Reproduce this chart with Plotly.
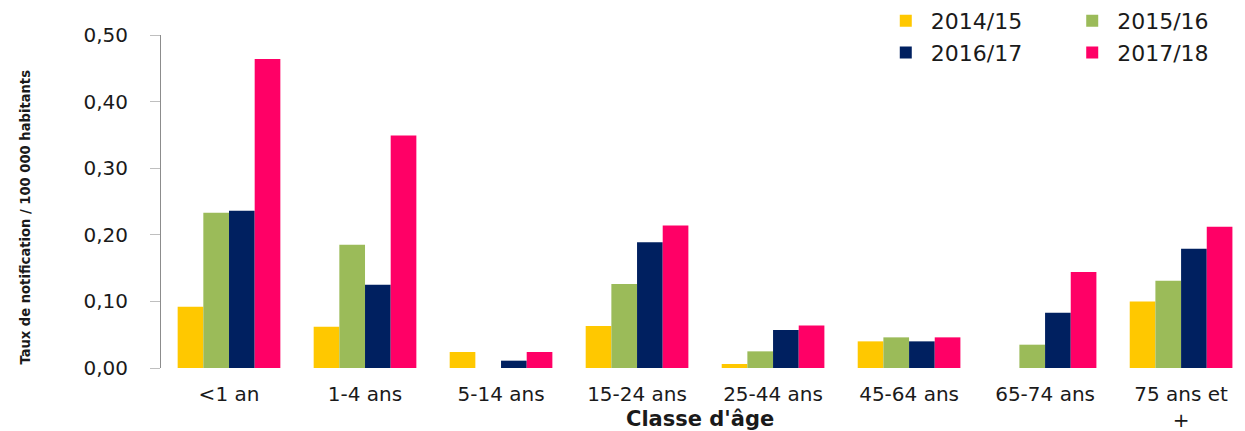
import plotly.graph_objects as go

# Age classes and notification rates per season (per 100 000 inhabitants)
age_classes = ["<1 an", "1-4 ans", "5-14 ans", "15-24 ans", "25-44 ans",
               "45-64 ans", "65-74 ans", "75 ans et<br>+"]
seasons = ["2014/15", "2015/16", "2016/17", "2017/18"]

rate_2014_15 = [0.092, 0.062, 0.024, 0.063, 0.006, 0.040, None, 0.100]
rate_2015_16 = [0.233, 0.185, None, 0.126, 0.025, 0.046, 0.035, 0.131]
rate_2016_17 = [0.236, 0.125, 0.011, 0.189, 0.057, 0.040, 0.083, 0.179]
rate_2017_18 = [0.464, 0.349, 0.024, 0.214, 0.064, 0.046, 0.144, 0.212]

y_ticks = [0.0, 0.1, 0.2, 0.3, 0.4, 0.5]

colors = ["#FFC800", "#9BBB59", "#002060", "#FF0066"]
series = [rate_2014_15, rate_2015_16, rate_2016_17, rate_2017_18]
# two legend columns: left column holds 2014/15 and 2016/17
legend_ids = ["legend", "legend2", "legend", "legend2"]

fig = go.Figure()
for name, vals, col, lg in zip(seasons, series, colors, legend_ids):
    fig.add_trace(go.Bar(
        x=list(range(len(age_classes))), y=vals, name=name,
        marker=dict(color=col, line=dict(width=0)),
        legend=lg,
    ))

tick_font = dict(family="DejaVu Sans, Verdana, sans-serif", size=20, color="#1a1a1a")
legend_font = dict(family="DejaVu Sans, Verdana, sans-serif", size=22, color="#1a1a1a")
legend_common = dict(orientation="v", y=1.104, xanchor="left", yanchor="top",
                     itemwidth=40, font=legend_font, bgcolor="rgba(0,0,0,0)",
                     tracegroupgap=0)

fig.update_layout(
    width=1245, height=431,
    margin=dict(l=161, r=0, t=34, b=63),
    plot_bgcolor="white", paper_bgcolor="white",
    barmode="group", bargap=0.245, bargroupgap=0,
    separators=", ",
    font=tick_font,
    legend=dict(x=0.664, **legend_common),
    legend2=dict(x=0.836, **legend_common),
    showlegend=True,
)

fig.update_xaxes(
    tickmode="array", tickvals=list(range(len(age_classes))), ticktext=age_classes,
    range=[-0.5, 7.47], showline=False, showgrid=False, ticks="",
    tickfont=tick_font, ticklabelstandoff=12, automargin=False,
)

fig.update_yaxes(
    range=[0, 0.5], tickmode="array", tickvals=y_ticks, tickformat=".2f",
    showline=True, linecolor="#8c8c8c", linewidth=1,
    ticks="outside", ticklen=10, tickcolor="#bfbfbf",
    showgrid=False, zeroline=False, automargin=False,
    tickfont=tick_font, ticklabelstandoff=18,
)

# Axis captions
fig.add_annotation(
    text="<b>Classe d'âge</b>",
    xref="paper", yref="paper", x=0.497, y=-0.152,
    xanchor="center", yanchor="middle", showarrow=False,
    font=dict(family="DejaVu Sans, sans-serif", size=21, color="#1a1a1a"),
)
fig.add_annotation(
    text="Taux de notification / 100 000 habitants",
    xref="paper", yref="paper", x=-0.1255, y=0.455,
    xanchor="center", yanchor="middle", textangle=-90, showarrow=False,
    font=dict(family="DejaVu Sans Condensed, Roboto Condensed, Liberation Sans Narrow, Roboto, sans-serif",
              size=14.6, color="#1a1a1a", weight="bold"),
)

fig.write_html("out.html")
